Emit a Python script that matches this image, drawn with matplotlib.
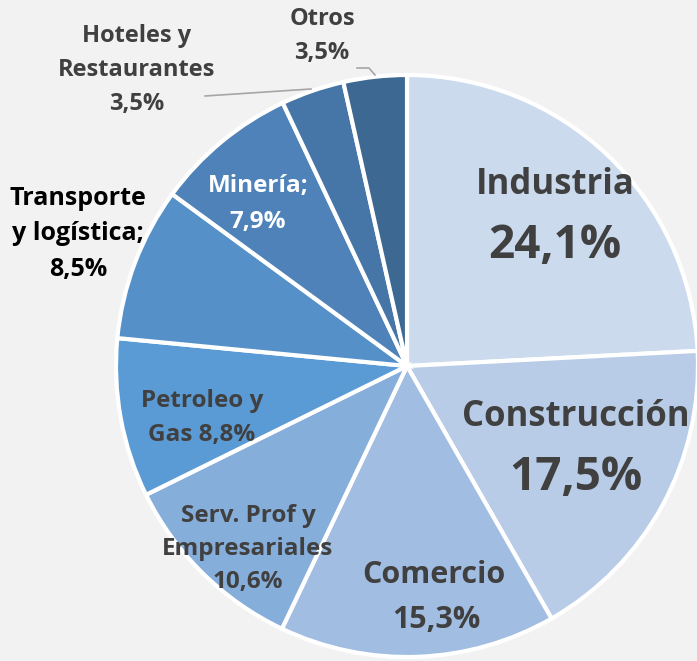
import matplotlib.pyplot as plt

# datos del gráfico (participación por sector)
sectores = ["Industria", "Construcción", "Comercio", "Serv. Prof y Empresariales",
            "Petroleo y Gas", "Transporte y logística", "Minería",
            "Hoteles y Restaurantes", "Otros"]
valores = [24.1, 17.5, 15.3, 10.6, 8.8, 8.5, 7.9, 3.5, 3.5]
colores = ["#cbdaed", "#b8cce7", "#a2bde2", "#86aedb", "#5b9bd5",
           "#5590c8", "#4e82b8", "#4675a7", "#3d6892"]

etiquetas = ["Industria\n24,1%", "Construcción\n17,5%", "Comercio\n15,3%",
             "Serv. Prof y\nEmpresariales\n10,6%", "Petroleo y\nGas 8,8%",
             "Transporte\ny logística;\n8,5%", "Minería;\n7,9%",
             "Hoteles y\nRestaurantes\n3,5%", "Otros\n3,5%"]

W, H = 697, 661
fig = plt.figure(figsize=(W / 100, H / 100), dpi=100)
fig.patch.set_facecolor("#f2f2f2")
ax = fig.add_axes([0, 0, 1, 1])

cx, cy, r = 407, H - 366, 291
ax.pie(valores, colors=colores, startangle=90, counterclock=False,
       center=(cx, cy), radius=r, frame=True,
       wedgeprops=dict(edgecolor="white", linewidth=3))
ax.set_xlim(0, W)
ax.set_ylim(0, H)
ax.set_aspect("equal")
ax.axis("off")

fam = ["Open Sans", "DejaVu Sans"]
gris = "#404040"

def txt(x, y, s, size, color=gris, ls=1.15):
    ax.text(x, H - y, s, ha="center", va="center", fontsize=size,
            fontweight="bold", color=color, family=fam, linespacing=ls)

# etiquetas grandes
txt(555, 185, "Industria", 25)
txt(555, 245, "24,1%", 33)
txt(576, 417, "Construcción", 25)
txt(576, 477, "17,5%", 33)
txt(434, 575, "Comercio", 22)
txt(436, 620, "15,3%", 22)
# etiquetas medianas
txt(248, 549, etiquetas[3], 17.5, ls=1.5)
txt(202, 418, etiquetas[4], 17.5, ls=1.58)
txt(78, 234, etiquetas[5], 18, color="black", ls=1.55)
txt(258, 204, etiquetas[6], 17.5, color="white", ls=1.63)
txt(137, 70, etiquetas[7], 17, ls=1.58)
txt(322, 36, etiquetas[8], 17, ls=1.6)

# líneas guía
ax.plot([205, 311], [H - 96, H - 89], color="#a6a6a6", lw=1.2)
ax.plot([357, 369, 375], [H - 68, H - 68, H - 75], color="#a6a6a6", lw=1.2)

fig.savefig("out.png", dpi=100, facecolor=fig.get_facecolor())
